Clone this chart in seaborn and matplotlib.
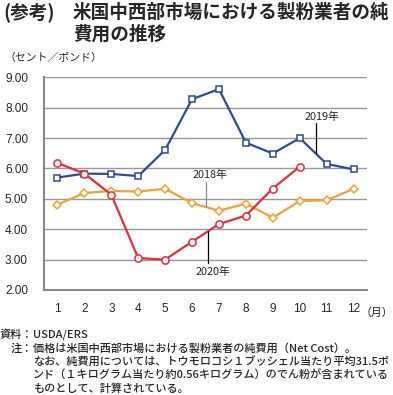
import pandas as pd
import matplotlib
matplotlib.use("Agg")
import matplotlib.pyplot as plt
import seaborn as sns

# データ
months = [1, 2, 3, 4, 5, 6, 7, 8, 9, 10, 11, 12]
cost_2018 = [4.81, 5.19, 5.26, 5.24, 5.33, 4.86, 4.61, 4.84, 4.38, 4.93, 4.95, 5.33]
cost_2019 = [5.70, 5.83, 5.82, 5.75, 6.61, 8.28, 8.61, 6.85, 6.49, 7.00, 6.15, 5.97]
cost_2020 = [6.18, 5.83, 5.14, 3.05, 3.00, 3.59, 4.17, 4.45, 5.34, 6.06]
y_ticks = [2.00, 3.00, 4.00, 5.00, 6.00, 7.00, 8.00, 9.00]

sns.set_theme(style="white")
plt.rcParams['font.family'] = ['Noto Sans CJK JP', 'DejaVu Sans']

W, H = 393, 395
fig = plt.figure(figsize=(W / 100, H / 100), dpi=100)
ax = fig.add_axes([44 / W, 1 - 290 / H, (367 - 44) / W, (290 - 77.3) / H])

c18, c19, c20 = "#F2A03A", "#2E4C92", "#E02E3A"
sns.lineplot(x=months, y=cost_2018, ax=ax, color=c18, linewidth=1.6, marker='D', markersize=4.5,
             markerfacecolor='white', markeredgecolor=c18, markeredgewidth=1.1)
sns.lineplot(x=months, y=cost_2019, ax=ax, color=c19, linewidth=1.6, marker='s', markersize=4.8,
             markerfacecolor='white', markeredgecolor=c19, markeredgewidth=1.1)
sns.lineplot(x=months[:len(cost_2020)], y=cost_2020, ax=ax, color=c20, linewidth=1.6, marker='o',
             markersize=5.2, markerfacecolor='white', markeredgecolor=c20, markeredgewidth=1.1)

ax.set_xlim(0.5, 12.5)
ax.set_ylim(2, 9)
ax.set_yticks(y_ticks)
ax.set_yticklabels([f"{v:.2f}" for v in y_ticks], family='Liberation Sans', fontsize=8.5)
ax.set_xticks(months)
ax.set_xticklabels([str(m) for m in months], family='Liberation Sans', fontsize=8.5)
ax.set_xticks([m - 0.5 for m in months] + [12.5], minor=True)
ax.tick_params(axis='x', which='major', length=0, pad=9)
ax.tick_params(axis='x', which='minor', length=3, width=1, color='#888888', direction='out')
ax.tick_params(axis='y', length=3.5, width=1, color='#888888', direction='out', pad=8)
ax.yaxis.grid(True, color='#999999', linewidth=1)
ax.set_axisbelow(True)
for s in ['top', 'right']:
    ax.spines[s].set_visible(False)
for s in ['left', 'bottom']:
    ax.spines[s].set_color('#888888')
    ax.spines[s].set_linewidth(1.5)

# 系列名の注記
ax.text(6.67, 5.79, "2018年", fontsize=7.8, ha='center', va='center')
ax.plot([6.52, 6.52], [5.57, 4.75], color='#888888', linewidth=0.9)
ax.text(6.78, 2.60, "2020年", fontsize=7.8, ha='center', va='center')
ax.plot([6.585, 6.585], [3.93, 2.89], color='black', linewidth=0.9)
ax.text(10.83, 7.70, "2019年", fontsize=7.8, ha='center', va='center')
ax.plot([10.6, 10.6], [7.50, 6.50], color='black', linewidth=0.9)

# タイトル
fig.text(3 / W, 1 - 12 / H, "(参考)", fontsize=13.4, fontweight='bold', va='center', ha='left')
fig.text(73 / W, 1 - 12 / H, "米国中西部市場における製粉業者の純", fontsize=13.4, fontweight='bold',
         va='center', ha='left')
fig.text(73 / W, 1 - 34.5 / H, "費用の推移", fontsize=13.4, fontweight='bold', va='center', ha='left')
fig.text(4 / W, 1 - 58 / H, "（セント／ポンド）", fontsize=7.8, va='center', ha='left')
fig.text(393 / W, 1 - 313 / H, "（月）", fontsize=7.8, va='center', ha='right')

# 資料・注
notes = [
    (335, "資料：", "USDA/ERS"),
    (348, "注：", "価格は米国中西部市場における製粉業者の純費用（Net Cost）。"),
    (362, "", "なお、純費用については、トウモロコシ１ブッシェル当たり平均31.5ポ"),
    (375, "", "ンド（１キログラム当たり約0.56キログラム）のでん粉が含まれている"),
    (389, "", "ものとして、計算されている。"),
]
for y, head, body in notes:
    if head:
        fig.text(33 / W, 1 - y / H, head, fontsize=8, fontweight='medium', va='center', ha='right')
    fig.text(33 / W, 1 - y / H, body, fontsize=8, fontweight='medium', va='center', ha='left')

fig.savefig("out.png", dpi=100)
